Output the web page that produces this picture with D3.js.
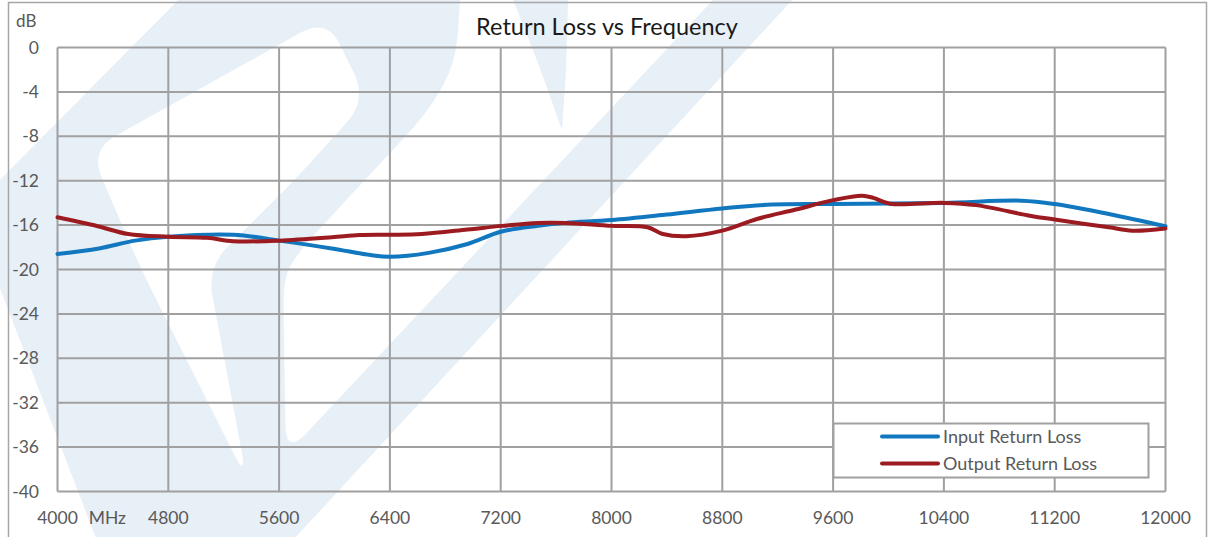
<!DOCTYPE html>
<html>
<head>
<meta charset="utf-8">
<script src="https://cdn.jsdelivr.net/npm/d3@7"></script>
<style>
  body { margin: 0; background: #fff; }
  text { font-family: Lato, "Noto Sans", sans-serif; }
</style>
</head>
<body>
<div id="chart"></div>
<script>
// Data
var freqIn = [4000, 4300, 4560, 4800, 5270, 5600, 5980, 6260, 6400, 6680, 6960, 7200, 7470, 7670, 8000, 8400, 8800, 9160, 9600, 10400, 10960, 11200, 11590, 12000];
var inputRL = [-18.6, -18.1, -17.4, -17.05, -16.87, -17.4, -18.1, -18.7, -18.85, -18.5, -17.7, -16.6, -16.07, -15.8, -15.55, -15.05, -14.5, -14.15, -14.1, -14.0, -13.8, -14.1, -15.0, -16.1];

var freqOut = [4000, 4290, 4510, 4800, 5080, 5270, 5600, 5980, 6180, 6400, 6630, 6960, 7210, 7470, 7670, 8000, 8260, 8370, 8540, 8800, 9050, 9330, 9600, 9810, 9890, 10010, 10400, 10630, 11020, 11200, 11590, 11760, 12000];
var outputRL = [-15.3, -16.1, -16.8, -17.05, -17.15, -17.45, -17.4, -17.1, -16.9, -16.87, -16.8, -16.4, -16.07, -15.8, -15.8, -16.07, -16.2, -16.8, -17.0, -16.5, -15.45, -14.6, -13.75, -13.35, -13.55, -14.07, -14.0, -14.2, -15.15, -15.5, -16.2, -16.5, -16.3];

var xTicks = [4000, 4800, 5600, 6400, 7200, 8000, 8800, 9600, 10400, 11200, 12000];
var yTicks = [0, -4, -8, -12, -16, -20, -24, -28, -32, -36, -40];
var seriesNames = ["Input Return Loss", "Output Return Loss"];
var seriesColors = ["#1177bf", "#9c1b20"];

// Set up the chart
var svgWidth = 1213;
var svgHeight = 537;
var plot = { left: 57.5, right: 1165.5, top: 47.5, bottom: 491.5 };

var svg = d3.select("#chart")
  .append("svg")
  .attr("width", svgWidth)
  .attr("height", svgHeight);

// Polygon with rounded corners (for the watermark logo)
function roundedPath(pts, r) {
  var n = pts.length, out = "";
  for (var i = 0; i < n; i++) {
    var a = pts[(i - 1 + n) % n], v = pts[i], b = pts[(i + 1) % n];
    var da = Math.hypot(a[0] - v[0], a[1] - v[1]);
    var db = Math.hypot(b[0] - v[0], b[1] - v[1]);
    var ra = Math.min(r, da * 0.45) / da, rb = Math.min(r, db * 0.45) / db;
    var p1 = [v[0] + (a[0] - v[0]) * ra, v[1] + (a[1] - v[1]) * ra];
    var p2 = [v[0] + (b[0] - v[0]) * rb, v[1] + (b[1] - v[1]) * rb];
    out += (i === 0 ? "M" : "L") + p1[0] + "," + p1[1] + " Q" + v[0] + "," + v[1] + " " + p2[0] + "," + p2[1] + " ";
  }
  return out + "Z";
}

// Light watermark logo behind everything
var wmOuter = [[208, -30], [462, -30], [456, 62], [428, 112], [300, 250], [283, 278], [286, 455], [741, -30], [820, -30], [268, 567], [107, 567], [-30, 210]];
var wmHole = [[90, 150], [327, 18], [367, 100], [293, 182], [207, 267], [247, 480], [140, 267]];

var wm = svg.append("g").attr("fill", "#e7eff7");
wm.append("path")
  .attr("fill-rule", "evenodd")
  .attr("d", roundedPath(wmOuter, 30) + " " + roundedPath(wmHole, 30));
wm.append("path")
  .attr("d", "M513,0 L568,0 L566,70 L562,130 C548,90 530,40 513,0 Z");

// Outer chart border
svg.append("rect")
  .attr("x", 8.5)
  .attr("y", 2.5)
  .attr("width", 1198)
  .attr("height", 560)
  .attr("fill", "none")
  .attr("stroke", "#a6a6a6")
  .attr("stroke-width", 1.5);

// Scales
var xScale = d3.scaleLinear().domain([4000, 12000]).range([plot.left, plot.right]);
var yScale = d3.scaleLinear().domain([-40, 0]).range([plot.bottom, plot.top]);

// Gridlines
var grid = svg.append("g")
  .attr("stroke", "#a0a0a0")
  .attr("stroke-width", 2);

grid.selectAll(".vgrid")
  .data(xTicks)
  .enter()
  .append("line")
  .attr("x1", function (d) { return xScale(d); })
  .attr("x2", function (d) { return xScale(d); })
  .attr("y1", plot.top)
  .attr("y2", plot.bottom);

grid.selectAll(".hgrid")
  .data(yTicks)
  .enter()
  .append("line")
  .attr("x1", plot.left)
  .attr("x2", plot.right)
  .attr("y1", function (d) { return yScale(d); })
  .attr("y2", function (d) { return yScale(d); });

// Axis labels
svg.selectAll(".ylab")
  .data(yTicks)
  .enter()
  .append("text")
  .attr("x", 39)
  .attr("y", function (d) { return yScale(d); })
  .attr("dy", "0.35em")
  .attr("text-anchor", "end")
  .attr("font-size", "17.5px")
  .attr("fill", "#595959")
  .text(function (d) { return d; });

svg.selectAll(".xlab")
  .data(xTicks)
  .enter()
  .append("text")
  .attr("x", function (d) { return xScale(d); })
  .attr("y", 518)
  .attr("dy", "0.35em")
  .attr("text-anchor", "middle")
  .attr("font-size", "17.5px")
  .attr("fill", "#595959")
  .text(function (d) { return d; });

svg.append("text")
  .attr("x", xScale(4360))
  .attr("y", 518)
  .attr("dy", "0.35em")
  .attr("text-anchor", "middle")
  .attr("font-size", "17.5px")
  .attr("fill", "#595959")
  .text("MHz");

svg.append("text")
  .attr("x", 16)
  .attr("y", 21)
  .attr("dy", "0.35em")
  .attr("font-size", "17px")
  .attr("fill", "#595959")
  .text("dB");

// Title
svg.append("text")
  .attr("x", 607)
  .attr("y", 27)
  .attr("dy", "0.35em")
  .attr("text-anchor", "middle")
  .attr("font-size", "23.5px")
  .attr("fill", "#1a1a1a")
  .text("Return Loss vs Frequency");

// Curves
var line = d3.line()
  .x(function (d) { return xScale(d[0]); })
  .y(function (d) { return yScale(d[1]); })
  .curve(d3.curveCatmullRom.alpha(0.5));

var series = [d3.zip(freqIn, inputRL), d3.zip(freqOut, outputRL)];

svg.selectAll(".rl")
  .data(series)
  .enter()
  .append("path")
  .attr("d", line)
  .attr("fill", "none")
  .attr("stroke", function (d, i) { return seriesColors[i]; })
  .attr("stroke-width", 4)
  .attr("stroke-linecap", "round");

// Legend
var legend = svg.append("g");
legend.append("rect")
  .attr("x", 833.5)
  .attr("y", 423.5)
  .attr("width", 315)
  .attr("height", 54)
  .attr("fill", "#fff")
  .attr("stroke", "#a0a0a0")
  .attr("stroke-width", 2);

seriesNames.forEach(function (name, i) {
  var ly = 436.5 + i * 27;
  legend.append("line")
    .attr("x1", 882)
    .attr("x2", 938)
    .attr("y1", ly)
    .attr("y2", ly)
    .attr("stroke", seriesColors[i])
    .attr("stroke-width", 4)
    .attr("stroke-linecap", "round");
  legend.append("text")
    .attr("x", 943)
    .attr("y", ly)
    .attr("dy", "0.35em")
    .attr("font-size", "18px")
    .attr("fill", "#595959")
    .text(name);
});
</script>
</body>
</html>
